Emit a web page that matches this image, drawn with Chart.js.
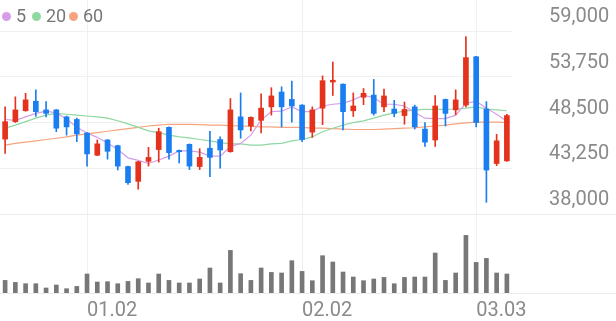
<!DOCTYPE html>
<html><head><meta charset="utf-8">
<script src="https://cdn.jsdelivr.net/npm/chart.js@4.4.1/dist/chart.umd.min.js"></script>
<style>
html,body{margin:0;padding:0;background:#fff;}
#wrap{position:relative;width:616px;height:321px;overflow:hidden;}
#c{position:absolute;left:0;top:0;}
#legend{position:absolute;left:0;top:0;width:120px;height:32px;font-family:Roboto,"DejaVu Sans",sans-serif;font-size:18px;color:#777;}
.item{position:absolute;top:6px;display:flex;align-items:center;line-height:20px;height:20px;}
.dot{width:9px;height:9px;border-radius:50%;margin-right:5px;}
</style></head><body>
<div id="wrap"><canvas id="c" width="616" height="321"></canvas><div id="legend"></div></div>
<script>
// ---- data ----
const dates = ['12.18','12.19','12.22','12.23','12.24','12.26','12.29','12.30','01.02','01.05','01.06','01.07','01.08','01.09','01.12','01.13','01.14','01.15','01.16','01.19','01.20','01.21','01.22','01.23','01.26','01.27','01.28','01.29','01.30','02.02','02.03','02.04','02.05','02.06','02.09','02.10','02.11','02.12','02.13','02.19','02.20','02.23','02.24','02.25','02.26','02.27','03.03','03.04','03.05','03.06'];
const tickDates = ['01.02','02.02','03.03'];
const yTicks = [38000, 43250, 48500, 53750, 59000];

const opens = [46600,48600,49850,50950,49950,49950,49150,48850,47300,44750,
  46500,45850,43450,41750,44050,45400,47950,45300,46000,43450,
  45550,46550,45150,49150,48100,48750,50300,52000,51150,50500,
  47400,50150,53150,52900,49850,51400,51650,50300,50050,49300,
  50300,47750,46500,51150,49950,50500,56050,50050,43800,44100];
const highs = [50300,51450,51850,52250,50900,50000,49250,49000,47350,46500,
  46550,45900,43500,44050,45650,47850,48000,45350,46050,45500,
  47500,46850,51250,51900,49150,51800,52500,52600,53250,50550,
  50300,53850,55450,52950,51900,52400,53450,52350,51050,50850,
  50500,48500,51600,51200,52250,58350,56100,50900,47150,49450];
const lows = [44950,48500,49800,49200,49150,47450,47050,46300,43500,44700,
  44300,43050,41400,40850,43500,43950,44300,43850,43100,43100,
  42300,43250,45100,46700,47550,47300,49350,48000,48550,46300,
  46800,48250,51600,47650,49200,50550,49350,49750,49150,48300,
  47750,45750,45750,48100,49400,50300,48000,39350,43550,44050];
const closes = [48600,49950,51100,49750,49550,47850,48000,47200,44900,46050,
  45200,43500,41600,44000,44500,47450,45050,45150,43500,44500,
  44500,45350,49950,47650,49100,50150,51550,50300,50400,46550,
  49950,53300,53350,49750,50400,51850,49550,51550,49550,50000,
  48000,46250,50400,49550,51100,55950,48500,43050,46400,49300];
const volumes = [126,106,93,93,50,80,43,66,190,110,
  113,93,116,143,100,190,126,100,100,140,
  250,100,426,193,126,250,206,200,323,216,
  123,373,310,210,160,123,140,156,93,156,
  160,160,400,126,200,576,306,346,200,190];
const ma5 = [48850,48750,49150,49550,49800,49600,48900,47950,47300,46800,
  46150,45400,44450,44150,43800,44200,44650,45250,45250,45100,
  44650,44650,45750,46100,47050,48800,49750,49800,50300,49750,
  49750,50400,50600,50700,51100,51650,51350,50600,50600,50400,
  49650,49000,48950,48950,49350,50700,50950,50150,49450,48650];
const ma20 = [47850,48200,48600,49000,49350,49550,49450,49350,49250,49150,
  49000,48700,48350,47950,47550,47350,47050,46850,46750,46550,
  46400,46200,46050,46050,45900,45900,46050,46100,46400,46550,
  46850,47450,47850,48200,48500,48700,49000,49350,49600,49800,
  49950,50000,50000,50000,50050,50150,50300,50050,49950,49850];
const ma60 = [45900,46100,46250,46400,46550,46700,46850,47050,47200,47350,
  47500,47650,47800,47950,48100,48200,48300,48300,48300,48250,
  48200,48200,48150,48100,48050,48000,48000,47950,47950,47950,
  47850,47850,47800,47750,47700,47700,47700,47750,47800,47850,
  47900,48000,48100,48200,48350,48450,48550,48550,48550,48500];
const maNames = ['5','20','60'];

// ---- styles ----
const UP = '#e5321c', DOWN = '#1a7ef0';
const MA_COLORS = ['#d79de9', '#8fd8a0', '#f6a47f'];
const TICK_FONT = {family: 'Roboto', size: 20};
const TICK_COLOR = '#8a8a8a';
const GRID = '#f0f0f0';

// legend (HTML text)
const legend = document.getElementById('legend');
const legendLeft = [2, 32, 69];
maNames.forEach((n, i) => {
  const it = document.createElement('div');
  it.className = 'item';
  it.style.left = legendLeft[i] + 'px';
  const d = document.createElement('span');
  d.className = 'dot';
  d.style.background = MA_COLORS[i];
  const t = document.createElement('span');
  t.textContent = n;
  it.appendChild(d); it.appendChild(t);
  legend.appendChild(it);
});

const candleColor = ctx => closes[ctx.dataIndex] >= opens[ctx.dataIndex] ? UP : DOWN;

const sepPlugin = {
  id: 'sep',
  beforeDatasetsDraw(chart) {
    const c = chart.ctx;
    const y1 = Math.round(chart.scales.y.getPixelForValue(yTicks[0])) + 0.5;
    const y2 = Math.round(chart.scales.x.top) + 0.5;
    c.save();
    c.strokeStyle = '#ebebeb';
    c.lineWidth = 1;
    c.beginPath();
    c.moveTo(0, y1); c.lineTo(chart.width, y1);
    c.moveTo(0, y2); c.lineTo(chart.width, y2);
    c.stroke();
    c.restore();
  }
};

new Chart(document.getElementById('c'), {
  type: 'bar',
  data: {
    labels: dates,
    datasets: [
      {type: 'line', label: 'MA60', data: ma60, borderColor: MA_COLORS[2], borderWidth: 1.2, pointRadius: 0, tension: 0, order: 3, yAxisID: 'y'},
      {type: 'line', label: 'MA20', data: ma20, borderColor: MA_COLORS[1], borderWidth: 1.2, pointRadius: 0, tension: 0, order: 2, yAxisID: 'y'},
      {type: 'line', label: 'MA5', data: ma5, borderColor: MA_COLORS[0], borderWidth: 1.2, pointRadius: 0, tension: 0, order: 1, yAxisID: 'y'},
      {label: 'wick', data: lows.map((l, i) => [l, highs[i]]), backgroundColor: candleColor, barThickness: 1, grouped: false, order: 0.5, yAxisID: 'y'},
      {label: 'body', data: opens.map((o, i) => [o, closes[i]]), backgroundColor: candleColor, barThickness: 5, minBarLength: 1, grouped: false, order: 0, yAxisID: 'y'},
      {label: 'volume', data: volumes, backgroundColor: '#777777', barThickness: 4, grouped: false, order: 5, yAxisID: 'yv'}
    ]
  },
  options: {
    responsive: false,
    animation: false,
    devicePixelRatio: 1,
    layout: {padding: 0, autoPadding: false},
    plugins: {legend: {display: false}, tooltip: {enabled: false}},
    scales: {
      x: {
        offset: true,
        grid: {offset: false, color: GRID, drawTicks: false},
        border: {display: true, color: '#ebebeb'},
        afterBuildTicks: ax => { ax.ticks = ax.ticks.filter(t => tickDates.includes(dates[t.value])); },
        ticks: {autoSkip: false, maxRotation: 0, align: 'start', padding: 6, color: TICK_COLOR, font: TICK_FONT},
        afterFit: ax => { ax.height = 28; ax.paddingLeft = 0; ax.paddingRight = 0; }
      },
      y: {
        position: 'right',
        min: 28940, max: 62560,
        afterBuildTicks: ax => { ax.ticks = yTicks.map(v => ({value: v})); },
        grid: {color: GRID, drawTicks: false},
        border: {display: false},
        ticks: {padding: 37, labelOffset: -14, color: TICK_COLOR, font: TICK_FONT, callback: v => v.toLocaleString('en-US')},
        afterFit: ax => { ax.width = 104; ax.paddingTop = 0; ax.paddingBottom = 0; }
      },
      yv: {display: false, min: 0, max: 2930}
    }
  },
  plugins: [sepPlugin]
});
</script>
</body></html>
